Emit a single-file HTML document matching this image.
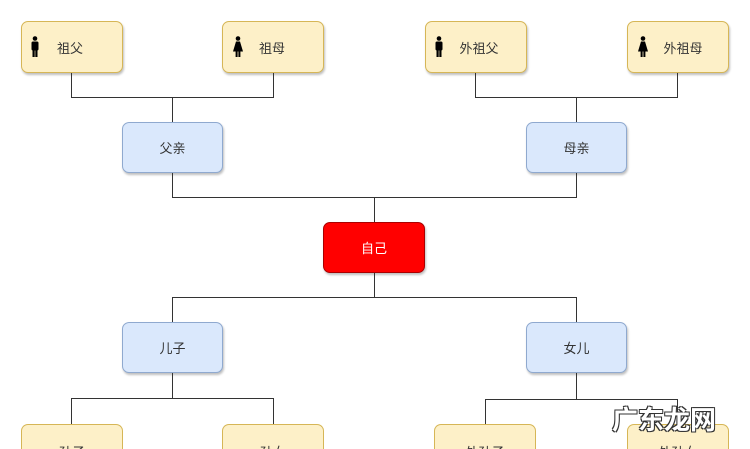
<!DOCTYPE html>
<html><head><meta charset="utf-8"><style>
html,body{margin:0;width:750px;height:449px;overflow:hidden;background:#fff}
body{font-family:"Liberation Sans","Noto Sans CJK SC",sans-serif;position:relative}
.b{position:absolute;box-sizing:border-box;border-radius:7px;font-size:13px;color:#333;display:flex;align-items:center;justify-content:center;box-shadow:1px 2px 2px rgba(0,0,0,.25)}
.y{background:#fdf0c8;border:1px solid #d6b656}
.u{background:#dae8fc;border:1px solid #8fa9cf}
.r{background:#f00;border:1px solid #a00;color:#fff}
.l{position:absolute;background:#333}
.ic{position:absolute;top:14px}
.wm{position:absolute;left:612px;top:400px;font-size:26px;font-weight:bold;color:#fff;text-shadow:-1px -1px 0 #333,1px -1px 0 #333,-1px 1px 0 #333,1px 1px 0 #333}
.bt{align-items:flex-start;padding-top:17px;height:25px!important;border-bottom:none;border-radius:7px 7px 0 0;overflow:hidden;box-shadow:none}
</style></head><body>
<svg width="0" height="0" style="position:absolute"><defs>
<g id="m"><circle cx="5" cy="2.5" r="2.3"/><rect x="1.5" y="5.5" width="7" height="9" rx="1.5"/><rect x="2.5" y="13" width="2.2" height="8"/><rect x="5.3" y="13" width="2.2" height="8"/></g>
<g id="f"><circle cx="5" cy="2.5" r="2.3"/><path d="M3 5.5h4l3 10H0z"/><rect x="2.6" y="15" width="2" height="6"/><rect x="5.4" y="15" width="2" height="6"/></g>
</defs></svg>
<div class="b y" style="left:21px;top:21px;width:102px;height:52px"><svg class="ic" style="left:8px" width="10" height="22"><use href="#m"/></svg><span style="margin-left:-4px">祖父</span></div>
<div class="b y" style="left:222px;top:21px;width:102px;height:52px"><svg class="ic" style="left:10px" width="10" height="22"><use href="#f"/></svg><span style="margin-left:-2px">祖母</span></div>
<div class="b y" style="left:425px;top:21px;width:102px;height:52px"><svg class="ic" style="left:8px" width="10" height="22"><use href="#m"/></svg><span style="margin-left:6px">外祖父</span></div>
<div class="b y" style="left:627px;top:21px;width:102px;height:52px"><svg class="ic" style="left:10px" width="10" height="22"><use href="#f"/></svg><span style="margin-left:10px">外祖母</span></div>
<div class="l" style="left:71px;top:73px;width:1px;height:24px"></div>
<div class="l" style="left:273px;top:73px;width:1px;height:24px"></div>
<div class="l" style="left:71px;top:97px;width:203px;height:1px"></div>
<div class="l" style="left:172px;top:97px;width:1px;height:25px"></div>
<div class="l" style="left:475px;top:73px;width:1px;height:24px"></div>
<div class="l" style="left:677px;top:73px;width:1px;height:24px"></div>
<div class="l" style="left:475px;top:97px;width:203px;height:1px"></div>
<div class="l" style="left:576px;top:97px;width:1px;height:25px"></div>
<div class="b u" style="left:122px;top:122px;width:101px;height:51px">父亲</div>
<div class="b u" style="left:526px;top:122px;width:101px;height:51px">母亲</div>
<div class="l" style="left:172px;top:173px;width:1px;height:24px"></div>
<div class="l" style="left:576px;top:173px;width:1px;height:24px"></div>
<div class="l" style="left:172px;top:197px;width:405px;height:1px"></div>
<div class="l" style="left:374px;top:197px;width:1px;height:25px"></div>
<div class="b r" style="left:323px;top:222px;width:102px;height:51px">自己</div>
<div class="l" style="left:374px;top:273px;width:1px;height:24px"></div>
<div class="l" style="left:172px;top:297px;width:405px;height:1px"></div>
<div class="l" style="left:172px;top:297px;width:1px;height:25px"></div>
<div class="l" style="left:576px;top:297px;width:1px;height:25px"></div>
<div class="b u" style="left:122px;top:322px;width:101px;height:51px">儿子</div>
<div class="b u" style="left:526px;top:322px;width:101px;height:51px">女儿</div>
<div class="l" style="left:172px;top:373px;width:1px;height:25px"></div>
<div class="l" style="left:71px;top:398px;width:203px;height:1px"></div>
<div class="l" style="left:71px;top:398px;width:1px;height:26px"></div>
<div class="l" style="left:273px;top:398px;width:1px;height:26px"></div>
<div class="l" style="left:576px;top:373px;width:1px;height:26px"></div>
<div class="l" style="left:485px;top:399px;width:193px;height:1px"></div>
<div class="l" style="left:485px;top:399px;width:1px;height:25px"></div>
<div class="l" style="left:677px;top:399px;width:1px;height:25px"></div>
<div class="b y bt" style="left:21px;top:424px;width:102px">孙子</div>
<div class="b y bt" style="left:222px;top:424px;width:102px">孙女</div>
<div class="b y bt" style="left:434px;top:424px;width:102px">外孙子</div>
<div class="b y bt" style="left:627px;top:424px;width:102px">外孙女</div>
<div class="wm">广东龙网</div>
</body></html>
